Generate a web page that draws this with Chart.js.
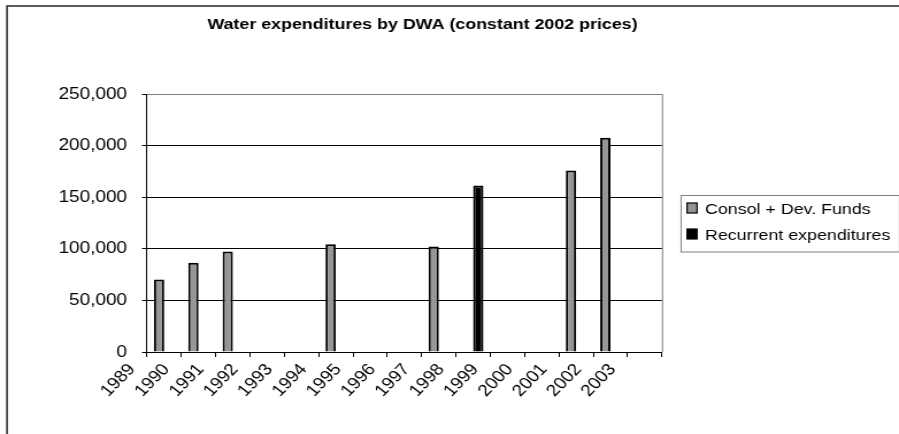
<!DOCTYPE html>
<html>
<head>
<meta charset="utf-8">
<script src="https://cdn.jsdelivr.net/npm/chart.js@4.4.0/dist/chart.umd.min.js"></script>
<style>
  html, body { margin: 0; padding: 0; background: #fff; overflow: hidden; }
  #chart { display: block; }
</style>
</head>
<body>
<!-- the original picture is stretched sideways, so the canvas is drawn narrow and widened by css -->
<canvas id="chart" width="782" height="434" style="width:899px;height:434px"></canvas>
<script>
const years = ['1989', '1990', '1991', '1992', '1993', '1994', '1995', '1996',
               '1997', '1998', '1999', '2000', '2001', '2002', '2003'];
const consolDevFunds = [70300, 86500, 97400, null, null, 104500, null, null,
                        102300, null, null, null, 175800, 207700, null];
const recurrentExpenditures = [null, null, null, null, null, null, null, null,
                               null, 161300, null, null, null, null, null];
const yTickValues = [0, 50000, 100000, 150000, 200000, 250000];
const seriesNames = ['Consol + Dev. Funds', 'Recurrent expenditures'];
const seriesColors = ['#969696', '#000000'];
const chartTitle = 'Water expenditures by DWA (constant 2002 prices)';

const FONT = '"Liberation Sans", Arial, sans-serif';

const framePlugin = {
    id: 'frame',
    afterDraw(chart) {
        const ctx = chart.ctx;
        const area = chart.chartArea;
        ctx.save();

        // outer chart border, only top and left are visible
        ctx.strokeStyle = '#333';
        ctx.lineWidth = 1.6;
        ctx.strokeRect(6.1, 6, 1000, 1000);

        // plot area border on the right
        ctx.strokeStyle = '#808080';
        ctx.lineWidth = 1;
        ctx.beginPath();
        ctx.moveTo(area.right + 0.5, area.top);
        ctx.lineTo(area.right + 0.5, area.bottom);
        ctx.stroke();

        // title
        ctx.fillStyle = '#000';
        ctx.font = 'bold 15.5px ' + FONT;
        ctx.textAlign = 'center';
        ctx.textBaseline = 'alphabetic';
        ctx.fillText(chartTitle, 367.5, 28.5);

        // legend
        ctx.strokeStyle = '#808080';
        ctx.strokeRect(592.4, 195.5, 190, 56.5);
        ctx.font = '15.5px ' + FONT;
        ctx.textAlign = 'left';
        const rows = [203, 229];
        chart.data.datasets.forEach((ds, i) => {
            ctx.fillStyle = ds.backgroundColor;
            ctx.fillRect(597.6, rows[i], 8.7, 10);
            ctx.strokeStyle = '#000';
            ctx.lineWidth = 1.2;
            ctx.strokeRect(597.6, rows[i], 8.7, 10);
            ctx.fillStyle = '#000';
            ctx.fillText(ds.label, 613.3, rows[i] + 10.5);
        });
        ctx.restore();
    }
};

new Chart(document.getElementById('chart'), {
    type: 'bar',
    data: {
        labels: years,
        datasets: [
            {
                label: seriesNames[0],
                data: consolDevFunds,
                backgroundColor: seriesColors[0],
                borderColor: '#000',
                borderWidth: 2
            },
            {
                label: seriesNames[1],
                data: recurrentExpenditures,
                backgroundColor: seriesColors[1],
                borderColor: '#000',
                borderWidth: 2
            }
        ]
    },
    options: {
        responsive: false,
        animation: false,
        devicePixelRatio: 1,
        categoryPercentage: 0.6,
        barPercentage: 1.0,
        layout: { padding: { left: 0, right: 782 - 575.8, top: 94, bottom: 0 } },
        plugins: {
            legend: { display: false },
            title: { display: false },
            tooltip: { enabled: false }
        },
        scales: {
            x: {
                offset: true,
                grid: { offset: true, drawOnChartArea: false, drawTicks: true, tickLength: 5, color: '#000' },
                border: { color: '#000', width: 1 },
                ticks: {
                    autoSkip: false,
                    minRotation: 49,
                    maxRotation: 49,
                    labelOffset: -28,
                    padding: 3,
                    color: '#000',
                    font: { family: FONT, size: 16.5 }
                },
                afterFit(scale) {
                    scale.height = 434 - 352;
                    scale.paddingLeft = 0;
                    scale.paddingRight = 0;
                }
            },
            y: {
                min: 0,
                max: 250000,
                afterBuildTicks(scale) {
                    scale.ticks = yTickValues.map(v => ({ value: v }));
                },
                grid: {
                    color: c => (c.tick && c.tick.value === 250000 ? '#808080' : '#000'),
                    tickColor: '#000',
                    tickLength: 4.35,
                    drawTicks: true
                },
                border: { color: '#000', width: 1 },
                ticks: {
                    padding: 13,
                    color: '#000',
                    font: { family: FONT, size: 16.5 },
                    callback: v => v.toLocaleString('en-US')
                },
                afterFit(scale) {
                    scale.width = 127.9;
                    scale.paddingTop = 0;
                    scale.paddingBottom = 0;
                }
            }
        }
    },
    plugins: [framePlugin]
});
</script>
</body>
</html>
